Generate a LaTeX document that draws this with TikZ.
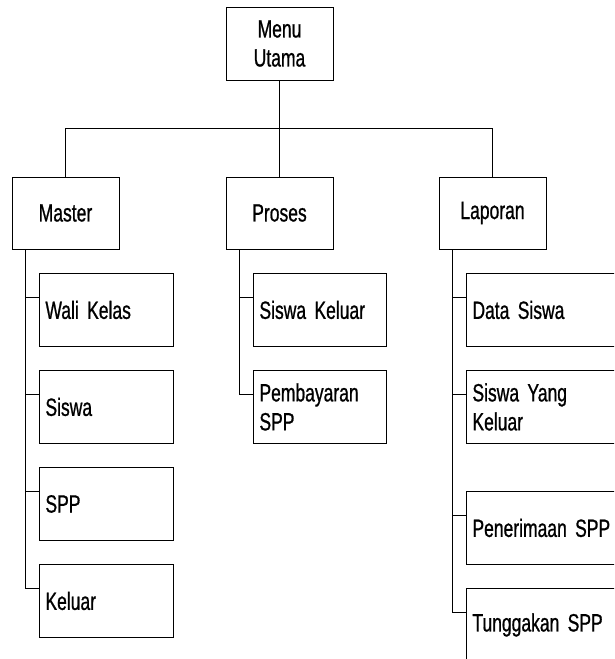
\documentclass[tikz,border=0pt]{standalone}
\usepackage{fontspec}
\setmainfont[FakeStretch=0.7, FakeBold=0.8]{Liberation Sans}
\usetikzlibrary{calc}
% condensed label font with a narrower word space
\newcommand\boxlabelfont{\fontsize{25}{29}\selectfont\spaceskip=3.4pt plus 1pt minus 1pt\relax}
\begin{document}
\begin{tikzpicture}[x=1pt,y=-1pt,
  box/.style={draw, line width=0.9pt, minimum height=73pt, inner ysep=0pt,
    font=\boxlabelfont},
  headbox/.style={box, minimum width=107pt, inner xsep=0pt, align=center},
  leaf/.style={box, inner xsep=6pt, text width=#1, align=left, anchor=north west},
  link/.style={line width=0.8pt}]
\useasboundingbox (0,0) rectangle (614,659);
\clip (0,0) rectangle (614,659);

% top level
\node[headbox] (menu) at (279.5,43.5) {Menu\\Utama};

% second level
\node[headbox, minimum height=72pt] (master)  at (65.5,213)  {Master};
\node[headbox, minimum height=72pt] (proses)  at (279.5,213) {Proses};
\node[headbox, minimum height=72pt] (laporan) at (492.5,213) {Laporan};

% Master items
\node[leaf=122pt] (wali)   at (39,273) {Wali Kelas};
\node[leaf=122pt] (siswa)  at (39,370) {Siswa};
\node[leaf=122pt] (spp)    at (39,467) {SPP};
\node[leaf=122pt] (keluar) at (39,564) {Keluar};

% Proses items
\node[leaf=121pt] (sklr)  at (253,273) {Siswa Keluar};
\node[leaf=121pt] (bayar) at (253,370) {Pembayaran\\SPP};

% Laporan items
\node[leaf=150pt] (data)     at (466,273) {Data Siswa};
\node[leaf=150pt] (yang)     at (466,370) {Siswa Yang\\Keluar};
\node[leaf=150pt] (terima)   at (466,491) {Penerimaan SPP};
\node[leaf=150pt] (tunggak)  at (466,588) {Tunggakan SPP};

% menu to second level
\coordinate (bar) at ($(menu.south)+(0,48)$);
\draw[link] (menu.south) -- (bar);
\draw[link] (bar -| master.north) -- (bar -| laporan.north);
\draw[link] (bar -| master.north) -- (master.north);
\draw[link] (bar -| proses.north) -- (proses.north);
\draw[link] (bar -| laporan.north) -- (laporan.north);

% trunks
\coordinate (mt) at ($(master.south west)+(14,0)$);
\coordinate (pt) at ($(proses.south west)+(14,0)$);
\coordinate (lt) at ($(laporan.south west)+(14,0)$);

\foreach \c in {wali,siswa,spp,keluar}
  \draw[link] (mt) |- ($(\c.north west)!0.33!(\c.south west)$);
\foreach \c in {sklr,bayar}
  \draw[link] (pt) |- ($(\c.north west)!0.33!(\c.south west)$);
\foreach \c in {data,yang,terima,tunggak}
  \draw[link] (lt) |- ($(\c.north west)!0.33!(\c.south west)$);
\end{tikzpicture}
\end{document}
